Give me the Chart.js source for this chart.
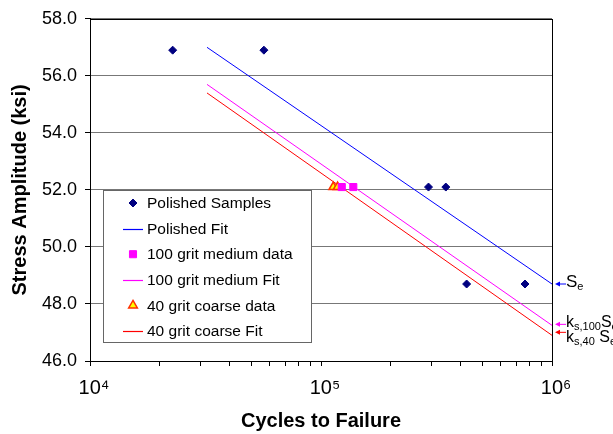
<!DOCTYPE html>
<html>
<head>
<meta charset="utf-8">
<script src="https://cdn.jsdelivr.net/npm/chart.js@4.4.1/dist/chart.umd.min.js"></script>
<style>
  html, body { margin: 0; padding: 0; background: #fff; }
  #wrap { width: 613px; height: 434px; }
</style>
</head>
<body>
<div id="wrap"><canvas id="snChart" width="613" height="434"></canvas></div>
<script>
// cycles to failure vs stress amplitude (ksi)
const polishedCycles = [22800, 56600, 292000, 347000, 427000, 764000];
const polishedStress = [56.9, 56.9, 52.1, 52.1, 48.7, 48.7];
const mediumCycles = [123000, 138000];
const mediumStress = [52.1, 52.1];
const coarseCycles = [113000, 118000];
const coarseStress = [52.1, 52.1];

// fit lines (start / end)
const fitCycles = [32100, 1000000];
const polishedFit = [57.0, 48.7];
const mediumFit = [55.7, 47.25];
const coarseFit = [55.4, 46.9];

const xTicks = [10000, 20000, 30000, 40000, 50000, 60000, 70000, 80000, 90000,
                100000, 200000, 300000, 400000, 500000, 600000, 700000, 800000, 900000, 1000000];
const xTickLabels = { 10000: '10\u2074', 100000: '10\u2075', 1000000: '10\u2076' };
const yTicks = [46, 48, 50, 52, 54, 56, 58];

const seriesLabels = ['Polished Samples', 'Polished Fit', '100 grit medium data',
                      '100 grit medium Fit', '40 grit coarse data', '40 grit coarse Fit'];

// right hand labels: [main, subscript, main, subscript]
const endLabels = [
    ['S', 'e'],
    ['k', 's,100', 'S', 'e'],
    ['k', 's,40', ' S', 'e']
];

const FONT = '"Liberation Sans", Arial, sans-serif';
const BLUE = '#0000FF', MAGENTA = '#FF00FF', RED = '#FF0000';

function pts(xs, ys) {
    return xs.map((x, i) => ({ x: x, y: ys[i] }));
}

function drawMarker(ctx, style, x, y, r, fill, stroke, lw) {
    ctx.save();
    ctx.beginPath();
    if (style === 'rectRot') {
        ctx.moveTo(x, y - r); ctx.lineTo(x + r, y); ctx.lineTo(x, y + r); ctx.lineTo(x - r, y);
    } else if (style === 'rect') {
        const s = r * Math.SQRT1_2;
        ctx.rect(x - s, y - s, 2 * s, 2 * s);
    } else {
        ctx.moveTo(x, y - r); ctx.lineTo(x + r * 0.87, y + r * 0.5); ctx.lineTo(x - r * 0.87, y + r * 0.5);
    }
    ctx.closePath();
    ctx.fillStyle = fill;
    ctx.fill();
    ctx.lineWidth = lw;
    ctx.strokeStyle = stroke;
    ctx.stroke();
    ctx.restore();
}

// frame + legend box + end labels
const extras = {
    id: 'extras',
    afterDraw(chart) {
        const ctx = chart.ctx;
        const a = chart.chartArea;
        const ys = chart.scales.y;

        ctx.save();
        ctx.strokeStyle = '#000';
        ctx.lineWidth = 1;
        ctx.strokeRect(Math.round(a.left) + 0.5, Math.round(a.top) + 0.5,
                       Math.round(a.right - a.left), Math.round(a.bottom - a.top));

        // legend
        const lx = a.left + 13, ly = 190, lw = 208, lh = 152;
        ctx.fillStyle = '#fff';
        ctx.fillRect(lx, ly, lw, lh);
        ctx.strokeStyle = '#666';
        ctx.strokeRect(lx + 0.5, ly + 0.5, lw, lh);
        ctx.font = '15.5px ' + FONT;
        ctx.textBaseline = 'middle';
        chart.data.datasets.forEach((ds, i) => {
            const cy = ly + 13 + i * 25.6;
            const mx = lx + 30;
            if (ds.showLine) {
                const lineCol = ds.borderColor;
                ctx.save();
                ctx.beginPath();
                ctx.strokeStyle = lineCol;
                ctx.lineWidth = 1.2;
                ctx.moveTo(lx + 20, Math.round(cy) + 0.5);
                ctx.lineTo(lx + 40, Math.round(cy) + 0.5);
                ctx.stroke();
                ctx.restore();
            } else {
                drawMarker(ctx, ds.pointStyle, mx, cy, ds.pointRadius, ds.backgroundColor, ds.borderColor, ds.borderWidth);
            }
            ctx.fillStyle = '#000';
            ctx.textAlign = 'left';
            ctx.textBaseline = 'middle';
            ctx.font = '15.5px ' + FONT;
            ctx.fillText(ds.label, lx + 44, cy + 1);
        });

        // arrows + labels at right
        const ends = [polishedFit[1], mediumFit[1], coarseFit[1]];
        const cols = [BLUE, MAGENTA, RED];
        const arrowY = [0, -1, -3];
        const textY = [-3, -3, 4];
        ends.forEach((v, i) => {
            const y = ys.getPixelForValue(v) + arrowY[i];
            const x0 = a.right + 3;
            ctx.strokeStyle = cols[i];
            ctx.fillStyle = cols[i];
            ctx.lineWidth = 1;
            ctx.beginPath();
            ctx.moveTo(x0 + 3, y); ctx.lineTo(x0 + 11, y);
            ctx.stroke();
            ctx.beginPath();
            ctx.moveTo(x0, y); ctx.lineTo(x0 + 5, y - 2.5); ctx.lineTo(x0 + 5, y + 2.5);
            ctx.closePath();
            ctx.fill();

            let tx = a.right + 14;
            const ty = y + textY[i];
            ctx.fillStyle = '#000';
            ctx.textAlign = 'left';
            ctx.textBaseline = 'alphabetic';
            endLabels[i].forEach((part, j) => {
                const sub = j % 2 === 1;
                ctx.font = (sub ? '11px ' : (i === 0 ? '17px ' : '16px ')) + FONT;
                ctx.fillText(part, tx, sub ? ty + 9 : ty + 6);
                tx += ctx.measureText(part).width;
            });
        });
        ctx.restore();
    }
};

const ctx = document.getElementById('snChart');

new Chart(ctx, {
    type: 'scatter',
    data: {
        datasets: [{
            label: seriesLabels[0],
            data: pts(polishedCycles, polishedStress),
            pointStyle: 'rectRot',
            pointRadius: 4,
            backgroundColor: '#000080',
            borderColor: '#000080',
            borderWidth: 1,
            showLine: false
        }, {
            label: seriesLabels[1],
            data: pts(fitCycles, polishedFit),
            showLine: true,
            pointRadius: 0,
            borderColor: BLUE,
            backgroundColor: BLUE,
            borderWidth: 1
        }, {
            label: seriesLabels[2],
            data: pts(mediumCycles, mediumStress),
            pointStyle: 'rect',
            pointRadius: 5,
            backgroundColor: MAGENTA,
            borderColor: MAGENTA,
            borderWidth: 1,
            showLine: false
        }, {
            label: seriesLabels[3],
            data: pts(fitCycles, mediumFit),
            showLine: true,
            pointRadius: 0,
            borderColor: MAGENTA,
            backgroundColor: MAGENTA,
            borderWidth: 1
        }, {
            label: seriesLabels[4],
            data: pts(coarseCycles, coarseStress),
            pointStyle: 'triangle',
            pointRadius: 5,
            backgroundColor: '#FFFF00',
            borderColor: '#FF3300',
            borderWidth: 1.5,
            showLine: false
        }, {
            label: seriesLabels[5],
            data: pts(fitCycles, coarseFit),
            showLine: true,
            pointRadius: 0,
            borderColor: RED,
            backgroundColor: RED,
            borderWidth: 1
        }]
    },
    options: {
        responsive: false,
        animation: false,
        events: [],
        layout: { padding: { top: 15, right: 61, left: 0, bottom: 0 } },
        plugins: {
            legend: { display: false },
            tooltip: { enabled: false }
        },
        scales: {
            x: {
                type: 'logarithmic',
                min: 10000,
                max: 1000000,
                afterBuildTicks: (scale) => { scale.ticks = xTicks.map(v => ({ value: v })); },
                afterFit: (scale) => { scale.height = 73; },
                ticks: {
                    autoSkip: false,
                    maxRotation: 0,
                    padding: 10,
                    labelOffset: 4,
                    color: '#000',
                    font: { family: FONT, size: 20 },
                    callback: (v) => xTickLabels[v] || ''
                },
                grid: { drawOnChartArea: false, tickLength: 5, tickColor: '#000' },
                border: { color: '#000' },
                title: {
                    display: true,
                    text: 'Cycles to Failure',
                    color: '#000',
                    font: { family: FONT, size: 20, weight: 'bold' },
                    padding: { top: 0, bottom: 1 }
                }
            },
            y: {
                min: 46,
                max: 58,
                afterBuildTicks: (scale) => { scale.ticks = yTicks.map(v => ({ value: v })); },
                afterFit: (scale) => { scale.width = 90; },
                ticks: {
                    padding: 8,
                    color: '#000',
                    font: { family: FONT, size: 18 },
                    callback: (v) => Number(v).toFixed(1)
                },
                grid: { color: '#777', tickLength: 5, tickColor: '#000' },
                border: { color: '#000' },
                title: {
                    display: true,
                    text: 'Stress Amplitude (ksi)',
                    color: '#000',
                    font: { family: FONT, size: 20, weight: 'bold' },
                    padding: { top: 8, bottom: 0 }
                }
            }
        }
    },
    plugins: [extras]
});
</script>
</body>
</html>
